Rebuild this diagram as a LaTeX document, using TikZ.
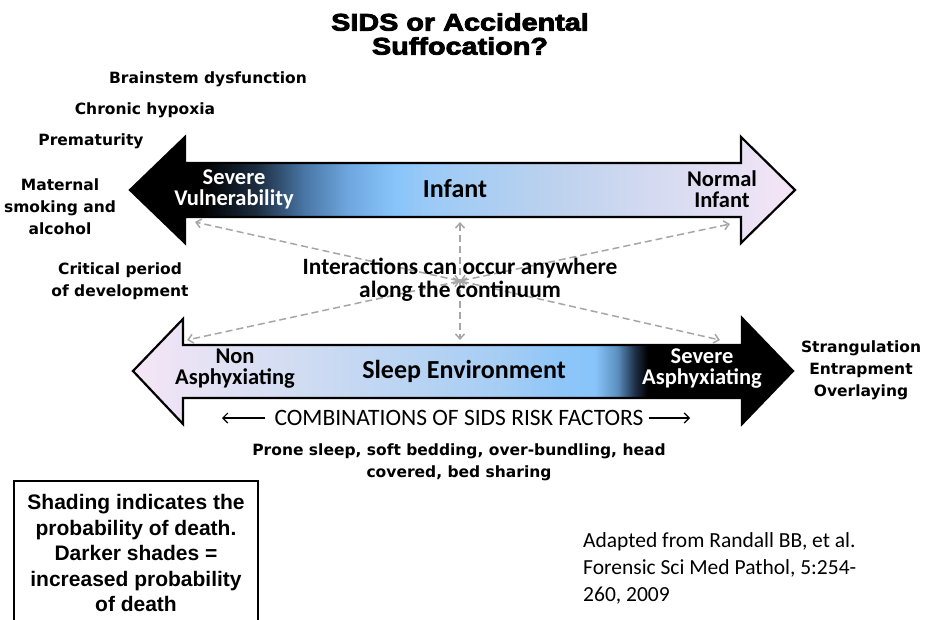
\documentclass[tikz,border=0pt]{standalone}
\usepackage{fontspec}
\setmainfont{Carlito}
\newfontfamily\comicfont{DejaVu Sans}
\newfontfamily\titlefont[FakeBold=3.5,FakeStretch=1.2]{Liberation Sans Bold}
\newfontfamily\notefont{Liberation Sans}
\usetikzlibrary{arrows.meta,positioning}

\definecolor{linkgray}{HTML}{A6A6A6}
\definecolor{tdark}{HTML}{1C2C40}
\definecolor{tmid}{HTML}{4A78A8}
\definecolor{tblue}{HTML}{6FA8E0}
\definecolor{sky}{HTML}{88C4FA}
\definecolor{tsky}{HTML}{9CCAF6}
\definecolor{tpale}{HTML}{BED2EE}
\definecolor{lilac}{HTML}{F5E6F6}
\definecolor{bpale}{HTML}{D0DCF2}
\definecolor{bsky}{HTML}{A6CDF4}
\definecolor{bblue}{HTML}{8EC6F8}
\definecolor{bmid}{HTML}{5B8FC0}
\definecolor{bdark}{HTML}{1E3048}

\pgfdeclarehorizontalshading{infantshade}{100bp}{color(0bp)=(black); color(25bp)=(black);
  color(30.5bp)=(black); color(34.5bp)=(tdark); color(38.2bp)=(tmid); color(41.5bp)=(tblue);
  color(44.9bp)=(sky); color(47.6bp)=(tsky); color(57.3bp)=(tpale); color(75bp)=(lilac);
  color(100bp)=(lilac)}
\pgfdeclarehorizontalshading{sleepshade}{100bp}{color(0bp)=(lilac); color(25bp)=(lilac);
  color(37.65bp)=(bpale); color(52.8bp)=(bsky); color(57.35bp)=(bblue); color(60bp)=(sky);
  color(61.7bp)=(bmid); color(63bp)=(bdark); color(64bp)=(black); color(75bp)=(black);
  color(100bp)=(black)}

\begin{document}
\begin{tikzpicture}[x=1pt,y=-1pt,every node/.append style={inner sep=0pt,align=center},
    bigarrow/.style={draw=black,line width=2.2pt,line join=miter},
    comic/.style={font=\comicfont\bfseries\fontsize{15.5}{22}\selectfont},
    sidelabel/.style={font=\bfseries\fontsize{22.5}{21}\selectfont},
    mainlabel/.style={font=\bfseries\fontsize{26}{28}\selectfont},
    link/.style={draw=linkgray,line width=1.5pt,dash pattern=on 7pt off 4pt,
                 {Straight Barb[length=5pt,width=9pt]}-{Straight Barb[length=5pt,width=9pt]}},
    reach/.style={line width=1.2pt,-{Straight Barb[length=5pt,width=10pt]}}]
    \useasboundingbox (0,0) rectangle (933,619);

    % title
    \node[font=\titlefont\fontsize{24}{24}\selectfont] (title) at (460,34)
        {SIDS or Accidental\\Suffocation?};

    % the two continua
    \shadedraw[bigarrow,shading=infantshade] (185,163) -- (185,137) -- (130,190) -- (185,243)
        -- (185,217) -- (741,217) -- (741,243) -- (795,190) -- (741,137) -- (741,163) -- cycle;
    \shadedraw[bigarrow,shading=sleepshade] (183,345) -- (183,319) -- (133,371) -- (183,424)
        -- (183,398) -- (742,398) -- (742,424) -- (793,371) -- (742,318) -- (742,345) -- cycle;

    % interactions
    \coordinate (hub)  at (460,281);
    \coordinate (topL) at (195,222);
    \coordinate (topR) at (730,224);
    \coordinate (botL) at (187,340);
    \coordinate (botR) at (720,340);
    \coordinate (topM) at (460,222);
    \coordinate (botM) at (460,340);
    \draw[link] (hub) -- (topL);
    \draw[link] (hub) -- (topR);
    \draw[link] (hub) -- (botL);
    \draw[link] (hub) -- (botR);
    \draw[link] (topM) -- (botM);
    \node[font=\bfseries\fontsize{23.4}{23}\selectfont] (inter) at (460,280)
        {Interactions can occur anywhere\\along the continuum};

    % labels on the arrows
    \node[sidelabel,text=white] (vuln) at (234,189) {Severe\\Vulnerability};
    \node[mainlabel] (infant) at (455,189) {Infant};
    \node[sidelabel] (normal) at (722,189) {Normal\\Infant};
    \node[sidelabel] (nonasph) at (235,369) {Non\\Asphyxiating};
    \node[mainlabel] (sleep) at (464,371) {Sleep Environment};
    \node[sidelabel,text=white] (asph) at (702,369) {Severe\\Asphyxiating};

    % infant risk factors
    \node[comic] (brain) at (208,79) {Brainstem dysfunction};
    \node[comic] (hypox) at (145,110) {Chronic hypoxia};
    \node[comic] (prem) at (91,141) {Prematurity};
    \node[comic] (smoke) at (60,207) {Maternal\\smoking and\\alcohol};
    \node[comic] (crit) at (120,281) {Critical period\\of development};

    % environment
    \node[comic] (strang) at (861,370) {Strangulation\\Entrapment\\Overlaying};
    \node[font=\fontsize{23.5}{24}\selectfont] (combo) at (459,418)
        {COMBINATIONS OF SIDS RISK FACTORS};
    \coordinate (comboL) at (222,418);
    \coordinate (comboR) at (690,418);
    \draw[reach] ([xshift=-9pt]combo.west) -- (comboL);
    \draw[reach] ([xshift=5pt]combo.east) -- (comboR);
    \node[comic] (prone) at (459,462)
        {Prone sleep, soft bedding, over-bundling, head\\covered, bed sharing};

    % note and source
    \draw[line width=2pt] (14,481) rectangle (258,650);
    \node[font=\notefont\bfseries\fontsize{21}{25.5}\selectfont] (note) at (136,553)
        {Shading indicates the\\probability of death.\\Darker shades =\\increased probability\\of death};
    \node[anchor=north west,align=left,font=\fontsize{21.5}{27}\selectfont] (source) at (583,532)
        {Adapted from Randall BB, et al.\\Forensic Sci Med Pathol, 5:254-\\260, 2009};
\end{tikzpicture}
\end{document}
